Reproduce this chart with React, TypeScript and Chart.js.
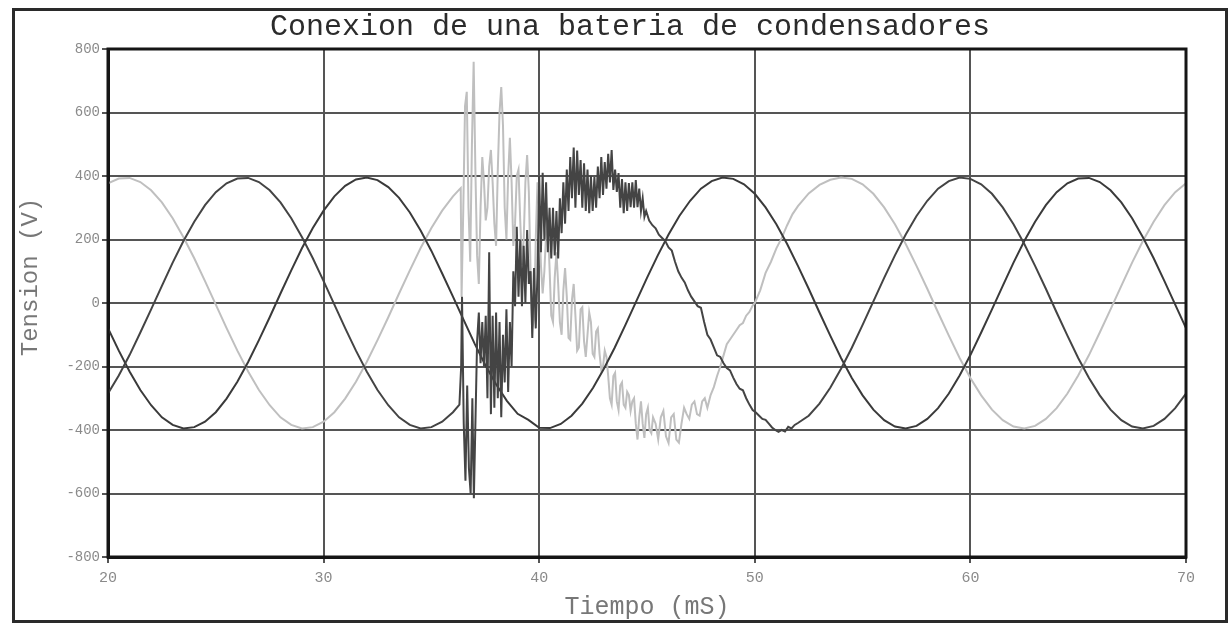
import React, { useEffect, useRef } from "react";
import { Chart, registerables } from "chart.js";

Chart.register(...registerables);

const titulo = "Conexion de una bateria de condensadores";
const tituloX = "Tiempo (mS)";
const tituloY = "Tension (V)";
const ticksX = [20, 30, 40, 50, 60, 70];
const ticksY = [-800, -600, -400, -200, 0, 200, 400, 600, 800];

// Tiempo de muestreo (ms)
const tiempo = [
  20, 20.5, 21, 21.5, 22, 22.5, 23, 23.5, 24, 24.5,
  25, 25.5, 26, 26.5, 27, 27.5, 28, 28.5, 29, 29.5,
  30, 30.5, 31, 31.5, 32, 32.5, 33, 33.5, 34, 34.5,
  35, 35.5, 36, 36.5, 37, 37.5, 38, 38.5, 39, 39.5,
  40, 40.5, 41, 41.5, 42, 42.5, 43, 43.5, 44, 44.5,
  45, 45.5, 46, 46.5, 47, 47.5, 48, 48.5, 49, 49.5,
  50, 50.5, 51, 51.5, 52, 52.5, 53, 53.5, 54, 54.5,
  55, 55.5, 56, 56.5, 57, 57.5, 58, 58.5, 59, 59.5,
  60, 60.5, 61, 61.5, 62, 62.5, 63, 63.5, 64, 64.5,
  65, 65.5, 66, 66.5, 67, 67.5, 68, 68.5, 69, 69.5,
  70,
];

// Fase A (oscura, sin transitorio fuerte)
const faseA = [
  -79, -150, -216, -274, -322, -360, -384, -395, -391, -374,
  -344, -301, -248, -186, -117, -45, 30, 103, 173, 236,
  291, 336, 369, 389, 395, 387, 365, 331, 285, 228,
  164, 93, 20, -54, -127, -195, -256, -308, -349, -368,
  -393, -394, -381, -355, -317, -267, -207, -141, -69, 5,
  79, 150, 216, 274, 322, 360, 384, 395, 391, 374,
  344, 301, 248, 186, 117, 45, -30, -103, -173, -236,
  -291, -336, -369, -389, -395, -387, -365, -331, -285, -228,
  -164, -93, -20, 54, 127, 195, 256, 308, 349, 377,
  392, 394, 381, 355, 317, 267, 207, 141, 69, -5,
  -79,
];

// Fase B (oscura, con transitorio)
const faseB = [
  -285, -228, -164, -93, -20, 54, 127, 195, 256, 308,
  349, 377, 392, 394, 381, 355, 317, 267, 207, 141,
  69, -5, -79, -150, -216, -274, -322, -360, -384, -395,
  -391, -374, -344, null, null, null, null, null, null, null,
  null, null, null, null, null, null, null, null, null, null,
  null, null, null, null, null, null, null, null, null, null,
  null, null, null, null, null, -355, -317, -267, -207, -141,
  -69, 5, 79, 150, 216, 274, 322, 360, 384, 395,
  391, 374, 344, 301, 248, 186, 117, 45, -30, -103,
  -173, -236, -291, -336, -369, -389, -395, -387, -365, -331,
  -285,
];

// Fase C (clara, con transitorio)
const faseC = [
  377, 392, 394, 381, 355, 317, 267, 207, 141, 69,
  -5, -79, -150, -216, -274, -322, -360, -384, -395, -391,
  -374, -344, -301, -248, -186, -117, -45, 30, 103, 173,
  236, 291, 336, null, null, null, null, null, null, null,
  null, null, null, null, null, null, null, null, null, null,
  null, null, null, null, null, null, null, null, null, null,
  null, null, null, null, null, null, null, null, null, 391,
  374, 344, 301, 248, 186, 117, 45, -30, -103, -173,
  -236, -291, -336, -369, -389, -395, -387, -365, -331, -285,
  -228, -164, -93, -20, 54, 127, 195, 256, 308, 349,
  377,
];

// Transitorio de la fase B [tiempo, tension]
const transitorioB: [number, number][] = [
  [36.3, -320], [36.38, -200], [36.42, 20], [36.5, -380], [36.58, -560],
  [36.66, -260], [36.74, -520], [36.82, -600], [36.9, -300], [36.97, -615],
  [37.05, -350], [37.12, -120], [37.2, -30], [37.28, -190], [37.36, -60],
  [37.44, -200], [37.52, -40], [37.6, -300], [37.68, 160], [37.76, -350],
  [37.84, -40], [37.92, -330], [38.0, -30], [38.08, -300], [38.16, -60],
  [38.24, -360], [38.32, -100], [38.4, -250], [38.48, -20], [38.56, -280],
  [38.64, -60], [38.72, -200], [38.8, 100], [38.88, -10], [38.96, 240],
  [39.04, 20], [39.12, 200], [39.2, -10], [39.28, 180], [39.36, 0],
  [39.44, 230], [39.52, 60], [39.6, 100], [39.68, -110], [39.76, 110],
  [39.84, -80], [39.92, 90], [40.0, 400], [40.08, 160], [40.16, 410],
  [40.24, 200], [40.32, 380], [40.4, 160], [40.48, 300], [40.56, 140],
  [40.64, 300], [40.72, 150], [40.8, 290], [40.88, 140], [40.96, 330],
  [41.04, 220], [41.12, 380], [41.2, 250], [41.28, 420], [41.36, 290],
  [41.44, 460], [41.52, 330], [41.6, 490], [41.68, 300], [41.76, 480],
  [41.84, 340], [41.92, 450], [42.0, 300], [42.08, 440], [42.16, 290],
  [42.24, 420], [42.32, 283], [42.4, 400], [42.48, 290], [42.56, 397],
  [42.64, 300], [42.72, 430], [42.8, 330], [42.88, 460], [42.96, 340],
  [43.04, 444], [43.12, 360], [43.2, 470], [43.28, 380], [43.36, 482],
  [43.44, 356], [43.52, 420], [43.6, 350], [43.68, 409], [43.76, 300],
  [43.84, 390], [43.92, 283], [44.0, 380], [44.08, 290], [44.16, 378],
  [44.24, 302], [44.32, 380], [44.4, 300], [44.48, 387], [44.56, 302],
  [44.64, 360], [44.72, 290], [44.8, 330], [44.88, 271], [44.96, 290],
  [45.1, 260], [45.25, 245], [45.4, 235], [45.55, 215], [45.7, 205],
  [45.85, 195], [46.0, 175], [46.15, 165], [46.3, 130], [46.45, 100],
  [46.6, 80], [46.75, 65], [46.9, 40], [47.05, 20], [47.2, 5],
  [47.35, -10], [47.5, -15], [47.65, -60], [47.8, -100], [47.95, -115],
  [48.1, -140], [48.25, -165], [48.4, -170], [48.55, -190], [48.7, -205],
  [48.85, -212], [49.0, -235], [49.15, -255], [49.3, -270], [49.45, -275],
  [49.6, -300], [49.75, -320], [49.9, -337], [50.05, -345], [50.2, -355],
  [50.35, -365], [50.5, -368], [50.65, -380], [50.8, -392], [50.95, -400],
  [51.1, -406], [51.25, -400], [51.4, -405], [51.55, -390], [51.7, -395],
  [51.85, -384], [52.0, -378],
];

// Transitorio de la fase C [tiempo, tension]
const transitorioC: [number, number][] = [
  [36.3, 358], [36.36, 362], [36.4, 20], [36.48, 300], [36.56, 620],
  [36.64, 665], [36.72, 300], [36.8, 130], [36.88, 500], [36.96, 760],
  [37.04, 420], [37.12, 150], [37.2, 60], [37.28, 300], [37.36, 460],
  [37.44, 380], [37.52, 260], [37.6, 300], [37.68, 430], [37.76, 482],
  [37.84, 380], [37.92, 250], [38.0, 180], [38.08, 420], [38.16, 600],
  [38.24, 680], [38.32, 560], [38.4, 300], [38.48, 200], [38.56, 400],
  [38.64, 520], [38.72, 380], [38.8, 180], [38.88, 250], [38.96, 400],
  [39.04, 420], [39.12, 260], [39.2, 120], [39.28, 200], [39.36, 380],
  [39.44, 466], [39.52, 350], [39.6, 100], [39.68, -80], [39.76, -50],
  [39.84, 200], [39.92, 380], [40.0, 300], [40.08, 120], [40.16, 30],
  [40.24, 100], [40.32, 220], [40.4, 250], [40.48, 110], [40.56, -40],
  [40.64, -60], [40.72, 80], [40.8, 160], [40.88, 60], [40.96, -60],
  [41.04, -100], [41.12, 40], [41.2, 110], [41.28, 20], [41.36, -110],
  [41.44, -116], [41.52, 10], [41.6, 60], [41.68, -40], [41.76, -150],
  [41.84, -140], [41.92, -20], [42.0, -13], [42.08, -120], [42.16, -170],
  [42.24, -100], [42.32, -30], [42.4, -60], [42.48, -160], [42.56, -170],
  [42.64, -90], [42.72, -80], [42.8, -160], [42.88, -210], [42.96, -200],
  [43.04, -150], [43.12, -170], [43.2, -230], [43.28, -300], [43.36, -320],
  [43.44, -230], [43.52, -220], [43.6, -310], [43.68, -337], [43.76, -260],
  [43.84, -250], [43.92, -320], [44.0, -330], [44.08, -280], [44.16, -290],
  [44.24, -340], [44.32, -310], [44.4, -300], [44.48, -380], [44.56, -430],
  [44.64, -360], [44.72, -310], [44.8, -380], [44.88, -425], [44.96, -350],
  [45.04, -330], [45.12, -400], [45.2, -410], [45.28, -360], [45.4, -380],
  [45.52, -430], [45.64, -360], [45.76, -340], [45.88, -420], [46.0, -441],
  [46.12, -360], [46.24, -350], [46.36, -430], [46.48, -440], [46.6, -380],
  [46.72, -330], [46.84, -350], [46.96, -365], [47.08, -320], [47.2, -310],
  [47.32, -350], [47.44, -355], [47.56, -310], [47.68, -300], [47.8, -330],
  [47.95, -290], [48.1, -265], [48.25, -230], [48.4, -200], [48.55, -165],
  [48.7, -130], [48.85, -115], [49.0, -100], [49.15, -85], [49.3, -70],
  [49.45, -63], [49.6, -40], [49.75, -28], [49.9, -8], [50.0, 0],
  [50.25, 40], [50.5, 95], [50.75, 130], [51.0, 172], [51.25, 205],
  [51.5, 245], [51.75, 280], [52.0, 305], [52.5, 345], [53.0, 372],
  [53.5, 388], [54.0, 395],
];

type Pt = { x: number; y: number };

function construirSerie(valores: (number | null)[], extra: [number, number][]): Pt[] {
  const pts: Pt[] = [];
  tiempo.forEach((t, i) => {
    const v = valores[i];
    if (v !== null && v !== undefined) pts.push({ x: t, y: v });
  });
  extra.forEach(([x, y]) => pts.push({ x, y }));
  pts.sort((a, b) => a.x - b.x);
  return pts;
}

const FONT = "'Liberation Mono', 'DejaVu Sans Mono', monospace";

const marcoPlugin = {
  id: "marco",
  afterDraw(chart: any) {
    const { ctx, chartArea } = chart;
    ctx.save();
    // plot frame
    ctx.strokeStyle = "#151515";
    ctx.lineWidth = 3;
    ctx.strokeRect(chartArea.left, chartArea.top, chartArea.right - chartArea.left, chartArea.bottom - chartArea.top);
    // outer frame
    ctx.strokeStyle = "#2a2a2a";
    ctx.lineWidth = 3;
    ctx.strokeRect(13.5, 9.5, 1213, 612);
    // main title
    ctx.fillStyle = "#2b2b2b";
    ctx.font = `30px ${FONT}`;
    ctx.textAlign = "center";
    ctx.textBaseline = "middle";
    ctx.fillText(titulo, 630, 27);
    // y title
    ctx.fillStyle = "#777777";
    ctx.font = `24px ${FONT}`;
    ctx.translate(31, 277);
    ctx.rotate(-Math.PI / 2);
    ctx.fillText(tituloY, 0, 0);
    ctx.restore();
  },
};

export default function App() {
  const ref = useRef<HTMLCanvasElement | null>(null);

  useEffect(() => {
    if (!ref.current) return;
    const chart = new Chart(ref.current, {
      type: "line",
      data: {
        datasets: [
          {
            label: "Fase B",
            data: construirSerie(faseB, transitorioB),
            borderColor: "#444444",
            borderWidth: 2,
            pointRadius: 0,
            tension: 0,
            fill: false,
          },
          {
            label: "Fase A",
            data: construirSerie(faseA, []),
            borderColor: "#3a3a3a",
            borderWidth: 2,
            pointRadius: 0,
            tension: 0,
            fill: false,
          },
          {
            label: "Fase C",
            data: construirSerie(faseC, transitorioC),
            borderColor: "#bfbfbf",
            borderWidth: 2,
            pointRadius: 0,
            tension: 0,
            fill: false,
          },
        ],
      },
      options: {
        animation: false,
        responsive: true,
        maintainAspectRatio: false,
        parsing: false as any,
        normalized: true,
        layout: { padding: { top: 49, right: 45, bottom: 0, left: 0 } },
        plugins: {
          legend: { display: false },
          tooltip: { enabled: false },
          title: { display: false },
        },
        scales: {
          x: {
            type: "linear",
            min: 20,
            max: 70,
            afterBuildTicks: (s: any) => {
              s.ticks = ticksX.map((v) => ({ value: v }));
            },
            afterFit: (s: any) => {
              s.height = 69;
              s.paddingLeft = 0;
              s.paddingRight = 0;
            },
            ticks: {
              color: "#8a8a8a",
              font: { family: FONT, size: 15 },
              padding: 6,
              maxRotation: 0,
              autoSkip: false,
            },
            grid: { color: "#555555", lineWidth: 2, tickLength: 6, drawTicks: true },
            border: { display: true, color: "#151515", width: 3 },
            title: {
              display: true,
              text: tituloX,
              color: "#777777",
              font: { family: FONT, size: 25 },
              padding: { top: 0, bottom: 4 },
            },
          },
          y: {
            type: "linear",
            min: -800,
            max: 800,
            afterBuildTicks: (s: any) => {
              s.ticks = ticksY.map((v) => ({ value: v }));
            },
            afterFit: (s: any) => {
              s.width = 108;
              s.paddingTop = 0;
              s.paddingBottom = 0;
            },
            ticks: {
              color: "#8a8a8a",
              font: { family: FONT, size: 14 },
              padding: 2,
              autoSkip: false,
            },
            grid: { color: "#555555", lineWidth: 2, tickLength: 6, drawTicks: true },
            border: { display: true, color: "#151515", width: 3 },
          },
        },
      },
      plugins: [marcoPlugin],
    });
    return () => chart.destroy();
  }, []);

  return (
    <div style={{ position: "absolute", left: 0, top: 0, width: 1231, height: 626, background: "#fff" }}>
      <canvas ref={ref} />
    </div>
  );
}
